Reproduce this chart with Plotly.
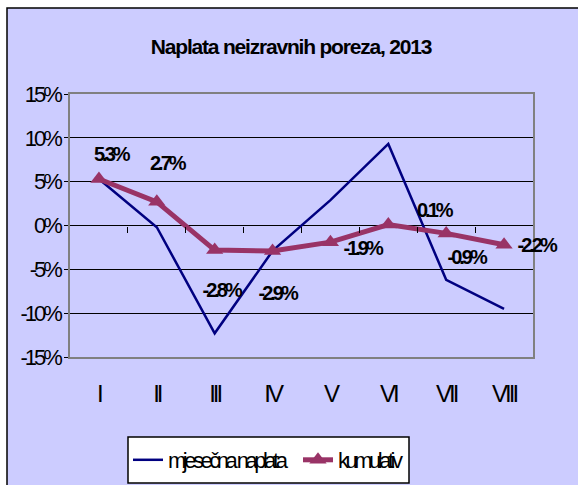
import plotly.graph_objects as go

months = ["I", "II", "III", "IV", "V", "VI", "VII", "VIII"]
mjesecna = [5.3, -0.2, -12.3, -2.9, 2.9, 9.3, -6.2, -9.5]
kumulativ = [5.3, 2.7, -2.8, -2.9, -1.9, 0.1, -0.9, -2.2]
ytick_vals = [-15, -10, -5, 0, 5, 10, 15]
ytick_text = ["-15%", "-10%", "-5%", "0%", "5%", "10%", "15%"]

FONT = "Liberation Sans, Arial, sans-serif"

W, H = 578, 485
PX0, PX1, PY0, PY1 = 70, 533, 94, 357
L, R, T, B = PX0, W - PX1, PY0, H - PY1
pw, ph = PX1 - PX0, PY1 - PY0


def xp(X):
    return (X - PX0) / pw


def yp(Y):
    return 1 - (Y - PY0) / ph


xs = list(range(len(months)))

fig = go.Figure()
fig.add_trace(go.Scatter(x=xs, y=[v / 100 for v in mjesecna], mode="lines",
                         name="mjesečna naplata", line=dict(color="#000080", width=2.5)))
fig.add_trace(go.Scatter(x=xs, y=[v / 100 for v in kumulativ], mode="lines+markers",
                         name="kumulativ", line=dict(color="#993366", width=5),
                         marker=dict(symbol="triangle-up", size=15, color="#993366")))

# label offsets (pixels) relative to each kumulativ point
offs = [(12, 25), (10, 39), (6, -40), (4, -42), (32, -6), (46, 15), (20, -24), (32, 0)]
for i, v in enumerate(kumulativ):
    dx, dy = offs[i]
    fig.add_annotation(x=i, y=v / 100, xref="x", yref="y", text=f"{v:.1f}%",
                       showarrow=False, xshift=dx, yshift=dy,
                       font=dict(family=FONT, size=20, color="black", weight="bold"))

fig.update_layout(
    template="none",
    width=W, height=H,
    margin=dict(l=L, r=R, t=T, b=B, pad=0, autoexpand=False),
    paper_bgcolor="white", plot_bgcolor="white",
    title=dict(text="<b>Naplata neizravnih poreza, 2013</b>", x=291 / W, xanchor="center",
               y=1 - 47 / H, yanchor="middle", xref="container", yref="container",
               font=dict(family=FONT, size=21, color="black")),
    font=dict(family=FONT, color="black"),
    xaxis=dict(range=[-0.5, 7.5], tickvals=xs, ticktext=months, showgrid=False,
               zeroline=False, showline=True, linecolor="#808080", linewidth=1.5,
               mirror=True, ticks="", ticklabelstandoff=14, automargin=False,
               tickfont=dict(family=FONT, size=24, color="black")),
    xaxis2=dict(range=[-0.5, 7.5], overlaying="x", anchor="free", position=0.5,
                side="bottom", tickvals=[0.5 + k for k in range(7)], ticktext=[""] * 7,
                ticks="outside", ticklen=6, tickcolor="black", showline=False,
                showgrid=False, zeroline=False, automargin=False),
    yaxis=dict(range=[-0.15, 0.15], tickvals=[v / 100 for v in ytick_vals], ticktext=ytick_text,
               showgrid=True, gridcolor="black", gridwidth=1, zeroline=False,
               showline=True, linecolor="#808080", linewidth=1.5, mirror=True,
               ticks="outside", ticklen=4, tickcolor="black", ticklabelstandoff=0,
               automargin=False,
               tickfont=dict(family=FONT, size=22, color="black")),
    legend=dict(orientation="h", x=xp(128), y=yp(460), xanchor="left", yanchor="middle",
                bgcolor="rgba(0,0,0,0)", borderwidth=0,
                font=dict(family=FONT, size=22, color="black"),
                entrywidthmode="pixels", entrywidth=125, itemwidth=30, tracegroupgap=0),
    showlegend=True,
)
# dummy trace on xaxis2 so it renders
fig.add_trace(go.Scatter(x=[0], y=[0], xaxis="x2", mode="markers", marker=dict(opacity=0),
                         showlegend=False, hoverinfo="skip"))

# lavender chart area with black frame
fig.add_shape(type="rect", xref="paper", yref="paper",
              x0=xp(7), x1=xp(590), y0=yp(500), y1=yp(8),
              fillcolor="#CCCCFF", line=dict(color="black", width=1.5), layer="below")
# legend box
fig.add_shape(type="rect", xref="paper", yref="paper",
              x0=xp(128), x1=xp(409), y0=yp(483), y1=yp(437),
              fillcolor="white", line=dict(color="black", width=1.5), layer="below")

post = """
document.body.style.margin = '0';
document.body.style.overflow = 'hidden';
var gd = document.getElementById('{plot_id}');
function squeeze(){
  gd.querySelectorAll('.ytick text').forEach(function(t){t.style.letterSpacing='-3px';});
  gd.querySelectorAll('.xtick text').forEach(function(t){t.style.letterSpacing='-3px';});
  gd.querySelectorAll('.gtitle').forEach(function(t){t.style.letterSpacing='-1.2px';});
  gd.querySelectorAll('.annotation-text').forEach(function(t){t.style.letterSpacing='-3px';});
  gd.querySelectorAll('.legendtext').forEach(function(t){t.style.letterSpacing='-3.5px';});
}
squeeze();
gd.on('plotly_afterplot', squeeze);
"""

fig.write_html("out.html", post_script=post, config={"displayModeBar": False})
